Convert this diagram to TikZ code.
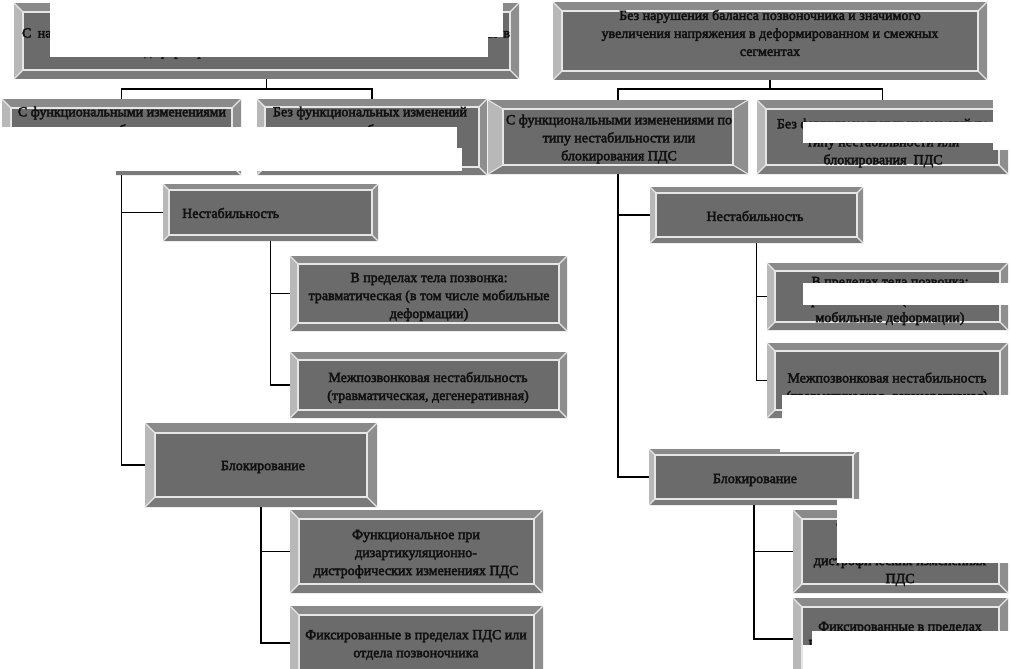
\documentclass[tikz,border=0pt]{standalone}
\usepackage{fontspec}
\setmainfont{Liberation Serif}
\newfontfamily\boxfont{Liberation Serif}[FakeBold=3]
\usetikzlibrary{calc}
\definecolor{face}{HTML}{6B6B6B}
\definecolor{bevT}{HTML}{8A8A8A}
\definecolor{bevL}{HTML}{B8B8B8}
\definecolor{bevR}{HTML}{8E8E8E}
\definecolor{bevB}{HTML}{7A7A7A}
\definecolor{hil}{HTML}{E6E6E6}
\definecolor{txt}{HTML}{101010}
\tikzset{
  bevel/.code={\def\bvx{#1}\def\bvy{#1}},
  bevelx/.code={\def\bvx{#1}},
  bevbox/.style={rectangle, inner sep=0pt, bevel=8,
    path picture={
      \path (path picture bounding box.north west) coordinate (NW)
            (path picture bounding box.north east) coordinate (NE)
            (path picture bounding box.south west) coordinate (SW)
            (path picture bounding box.south east) coordinate (SE);
      \path ($(NW)+(\bvx pt,-\bvy pt)$) coordinate (iNW)
            ($(NE)+(-\bvx pt,-\bvy pt)$) coordinate (iNE)
            ($(SW)+(\bvx pt,\bvy pt)$) coordinate (iSW)
            ($(SE)+(-\bvx pt,\bvy pt)$) coordinate (iSE);
      \fill[bevT] (NW) rectangle (SE);
      \fill[bevL] (NW) -- (iNW) -- (iSW) -- (SW) -- cycle;
      \fill[bevR] (NE) -- (iNE) -- (iSE) -- (SE) -- cycle;
      \fill[bevB] (SW) -- (iSW) -- (iSE) -- (SE) -- cycle;
      \fill[face] (iNW) rectangle (iSE);
      \draw[hil, line width=1.6pt] (iNW) rectangle (iSE);
      \draw[hil, line width=1.1pt] (NW) -- (iNW) (NE) -- (iNE) (SW) -- (iSW) (SE) -- (iSE);
    }},
  lbl/.style={text=txt, font=\boxfont\fontsize{14}{18}\selectfont, align=center, inner sep=0pt},
  conn/.style={draw=black, line width=1.5pt},
  patch/.style={fill=white, draw=none},
}
\begin{document}
\begin{tikzpicture}[x=1pt, y=-1pt]
\useasboundingbox (0,0) rectangle (1010,669);
\fill[white] (0,0) rectangle (1010,669);

% boxes
\node[bevbox, bevel=9, minimum width=505pt, minimum height=76pt] (b1) at (266.5,41) {};
\node[bevbox, bevel=9, minimum width=434pt, minimum height=78pt] (b2) at (770,41) {};
\node[bevbox, bevel=9, minimum width=239pt, minimum height=76pt] (b3) at (121.5,137) {};
\node[bevbox, bevel=8, minimum width=230pt, minimum height=76pt] (b4) at (372,137) {};
\node[bevbox, bevel=9, bevelx=15, minimum width=260pt, minimum height=74pt] (b5) at (618,137) {};
\node[bevbox, bevel=9, minimum width=251pt, minimum height=74pt] (b6) at (882.5,137) {};
\node[bevbox, bevel=6, minimum width=215pt, minimum height=57pt] (b7) at (270.5,212.5) {};
\node[bevbox, bevel=8, minimum width=277pt, minimum height=75pt] (b8) at (428.5,293.5) {};
\node[bevbox, bevel=8, minimum width=277pt, minimum height=66pt] (b9) at (428.5,385) {};
\node[bevbox, bevel=10, minimum width=232pt, minimum height=84pt] (b10) at (261,465) {};
\node[bevbox, bevel=9, minimum width=253pt, minimum height=83pt] (b11) at (416.5,551.5) {};
\node[bevbox, bevel=9, minimum width=253pt, minimum height=74pt] (b12) at (416.5,643) {};
\node[bevbox, bevel=6, minimum width=213pt, minimum height=56pt] (b13) at (756.5,215) {};
\node[bevbox, bevel=8, minimum width=241pt, minimum height=67pt] (b14) at (887.5,296.5) {};
\node[bevbox, bevel=8, minimum width=241pt, minimum height=75pt] (b15) at (887.5,380.5) {};
\node[bevbox, bevel=6, minimum width=210pt, minimum height=56pt] (b16) at (754,477) {};
\node[bevbox, bevel=9, minimum width=215pt, minimum height=83pt] (b17) at (900.5,551.5) {};
\node[bevbox, bevel=9, minimum width=215pt, minimum height=82pt] (b18) at (900.5,639) {};

% texts
\node[lbl] (t1) at (266,43) {\makebox[488pt][s]{С нарушением баланса позвоночника и значимым увеличением напряжения в}\\деформированном и смежных сегментах};
\node[lbl] (t2) at (770,33) {Без нарушения баланса позвоночника и значимого\\увеличения напряжения в деформированном и смежных\\сегментах};
\node[lbl] (t3) at (122,131) {С функциональными изменениями\\по типу нестабильности или\\блокирования ПДС};
\node[lbl] (t4) at (370,131) {Без функциональных изменений\\по типу нестабильности или\\блокирования ПДС};
\node[lbl] (t5) at (619,139) {С функциональными изменениями по\\типу нестабильности или\\блокирования ПДС};
\node[lbl] (t6) at (883,143) {Без функциональных изменений по\\типу нестабильности или\\блокирования\ \ ПДС};
\node[lbl, anchor=west] (t7) at (182,213) {Нестабильность};
\node[lbl] (t8) at (429,297) {В пределах тела позвонка:\\травматическая (в том числе мобильные\\деформации)};
\node[lbl] (t9) at (428,387.5) {Межпозвонковая нестабильность\\(травматическая, дегенеративная)};
\node[lbl] (t10) at (263,467) {Блокирование};
\node[lbl] (t11) at (416,554) {Функциональное при\\дизартикуляционно-\\дистрофических изменениях ПДС};
\node[lbl] (t12) at (416,645) {Фиксированные в пределах ПДС или\\отдела позвоночника};
\node[lbl] (t13) at (755,216) {Нестабильность};
\node[lbl] (t14) at (890,301) {В пределах тела позвонка:\\травматическая (в том числе\\мобильные деформации)};
\node[lbl] (t15) at (887,388) {Межпозвонковая нестабильность\\(травматическая, дегенеративная)};
\node[lbl] (t16) at (755,480) {Блокирование};
\node[lbl] (t17) at (900,553) {Функциональное при\\дизартикуляционно-\\дистрофических изменениях\\ПДС};
\node[lbl] (t18) at (900,637) {Фиксированные в пределах\\ПДС или отдела позвоночника};

% connectors
\coordinate (j1) at ($(b1.south)+(0,10)$);
\coordinate (j2) at ($(b2.south)+(0,9)$);
\draw[conn] (b1.south) -- (j1);
\draw[conn] (j1) -| (b3.north);
\draw[conn] (j1) -| (b4.north);
\draw[conn] (b2.south) -- (j2);
\draw[conn] (j2) -| (b5.north);
\draw[conn] (j2) -| (b6.north);
\draw[conn] (b3.south) |- (b7.west);
\draw[conn] (b3.south) |- (b10.west);
\draw[conn] (b7.south) |- (b8.west);
\draw[conn] (b7.south) |- (b9.west);
\draw[conn] (b10.south) |- (b11.west);
\draw[conn] (b10.south) |- (b12.west);
\draw[conn] (b5.south) |- (b13.west);
\draw[conn] (b5.south) |- (b16.west);
\draw[conn] (b13.south) |- (b14.west);
\draw[conn] (b13.south) |- (b15.west);
\draw[conn] (b16.south) |- (b17.west);
\draw[conn] (b16.south) |- (b18.west);

% white patches covering parts of the picture
\fill[patch] (50,0) rectangle (503,37);
\fill[patch] (50,0) rectangle (488,57);
\fill[patch] (0,127) rectangle (457,171);
\fill[patch] (0,127) rectangle (116,178);
\fill[patch] (440,148) rectangle (462,171);
\fill[patch] (993,95) rectangle (1010,150);
\fill[patch] (803,122) rectangle (1010,143);
\fill[patch] (803,283) rectangle (1010,305);
\fill[patch] (782,395) rectangle (1010,421);
\fill[patch] (780,446) rectangle (862,452);
\fill[patch] (837,499) rectangle (1010,563);
\fill[patch] (812,631) rectangle (1010,669);
\fill[patch] (803,645) rectangle (1010,669);
\end{tikzpicture}
\end{document}
